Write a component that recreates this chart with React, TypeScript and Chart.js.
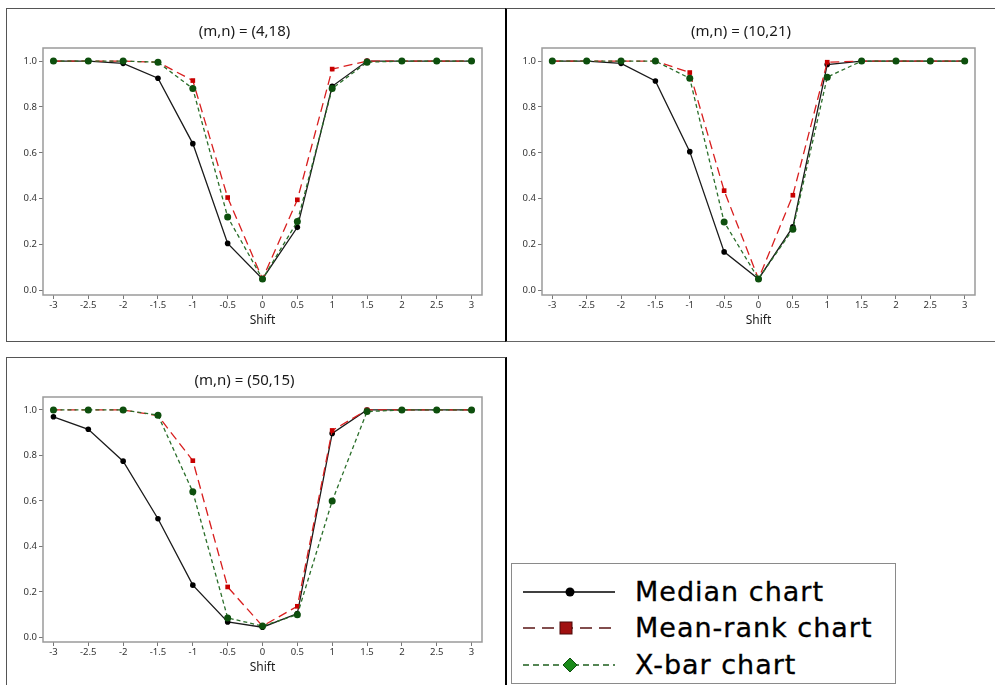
import React, { useEffect, useRef } from "react";
import { Chart, registerables } from "chart.js";
Chart.register(...registerables);

const shifts = [-3, -2.5, -2, -1.5, -1, -0.5, 0, 0.5, 1, 1.5, 2, 2.5, 3];
const yTickValues = [0, 0.2, 0.4, 0.6, 0.8, 1.0];

const title1 = "(m,n) = (4,18)";
const median1 = [1.0, 1.0, 0.99, 0.925, 0.64, 0.205, 0.05, 0.275, 0.89, 1.0, 1.0, 1.0, 1.0];
const meanRank1 = [1.0, 1.0, 1.0, 0.995, 0.915, 0.405, 0.05, 0.395, 0.965, 1.0, 1.0, 1.0, 1.0];
const xbar1 = [1.0, 1.0, 1.0, 0.995, 0.88, 0.32, 0.05, 0.3, 0.88, 0.995, 1.0, 1.0, 1.0];

const title2 = "(m,n) = (10,21)";
const median2 = [1.0, 1.0, 0.99, 0.913, 0.605, 0.168, 0.05, 0.277, 0.985, 1.0, 1.0, 1.0, 1.0];
const meanRank2 = [1.0, 1.0, 1.0, 1.0, 0.95, 0.435, 0.05, 0.415, 0.995, 1.0, 1.0, 1.0, 1.0];
const xbar2 = [1.0, 1.0, 1.0, 1.0, 0.925, 0.298, 0.05, 0.267, 0.93, 1.0, 1.0, 1.0, 1.0];

const title3 = "(m,n) = (50,15)";
const median3 = [0.97, 0.915, 0.775, 0.522, 0.23, 0.068, 0.045, 0.105, 0.897, 1.0, 1.0, 1.0, 1.0];
const meanRank3 = [1.0, 1.0, 1.0, 0.975, 0.777, 0.222, 0.05, 0.137, 0.91, 1.0, 1.0, 1.0, 1.0];
const xbar3 = [1.0, 1.0, 1.0, 0.977, 0.64, 0.086, 0.05, 0.1, 0.6, 0.993, 1.0, 1.0, 1.0];

const legendLabels = ["Median chart", "Mean-rank chart", "X-bar chart"];

const FONT = "'Noto Sans', 'Open Sans', sans-serif";
const LEGEND_FONT = "'DejaVu Sans', 'Noto Sans', sans-serif";

const framePlugin = {
  id: "frame",
  beforeDatasetsDraw(chart: any) {
    const { ctx, chartArea } = chart;
    ctx.save();
    ctx.strokeStyle = "#9a9a9a";
    ctx.lineWidth = 1.5;
    ctx.strokeRect(chartArea.left, chartArea.top, chartArea.right - chartArea.left, chartArea.bottom - chartArea.top);
    ctx.restore();
  },
};

type PanelProps = {
  title: string;
  median: number[];
  meanRank: number[];
  xbar: number[];
  left: number;
  top: number;
  width: number;
  height: number;
  yAxisWidth: number;
  rightPad: number;
};

function Panel(p: PanelProps) {
  const ref = useRef<HTMLCanvasElement>(null);
  useEffect(() => {
    const pts = (arr: number[]) => shifts.map((x, i) => ({ x, y: arr[i] }));
    const chart = new Chart(ref.current as HTMLCanvasElement, {
      type: "line",
      data: {
        datasets: [
          {
            label: legendLabels[2],
            data: pts(p.xbar),
            borderColor: "#2a6e2a",
            borderWidth: 1.3,
            borderDash: [4, 3],
            pointStyle: "circle",
            pointRadius: 3.5,
            pointBackgroundColor: "#0d4f0d",
            pointBorderColor: "#0d4f0d",
            pointBorderWidth: 0,
            order: 0,
          },
          {
            label: legendLabels[1],
            data: pts(p.meanRank),
            borderColor: "#d81e1e",
            borderWidth: 1.3,
            borderDash: [9, 5],
            pointStyle: "rect",
            pointRadius: 3.3,
            pointBackgroundColor: "#c80000",
            pointBorderColor: "#c80000",
            pointBorderWidth: 0,
            order: 1,
          },
          {
            label: legendLabels[0],
            data: pts(p.median),
            borderColor: "#1a1a1a",
            borderWidth: 1.3,
            pointStyle: "circle",
            pointRadius: 2.8,
            pointBackgroundColor: "#000",
            pointBorderColor: "#000",
            pointBorderWidth: 0,
            order: 2,
          },
        ],
      },
      options: {
        animation: false,
        responsive: false,
        maintainAspectRatio: false,
        layout: { padding: { left: 0, right: p.rightPad, top: 0, bottom: 0 } },
        plugins: {
          legend: { display: false },
          tooltip: { enabled: false },
          title: {
            display: true,
            text: p.title,
            color: "#1a1a1a",
            font: { family: FONT, size: 15, weight: "normal" },
            padding: { top: 14, bottom: 7 },
          },
        },
        scales: {
          x: {
            type: "linear",
            min: -3.15,
            max: 3.15,
            afterBuildTicks: (s: any) => {
              s.ticks = shifts.map((v) => ({ value: v }));
            },
            afterFit: (s: any) => {
              s.height = 45;
            },
            grid: { drawOnChartArea: false, drawTicks: true, tickLength: 4, color: "#777" },
            border: { display: false },
            ticks: {
              autoSkip: false,
              maxRotation: 0,
              padding: 1,
              color: "#333",
              font: { family: FONT, size: 9.5 },
              callback: (v: any) => String(v),
            },
            title: {
              display: true,
              text: "Shift",
              color: "#1a1a1a",
              font: { family: FONT, size: 12 },
              padding: { top: 0, bottom: 12 },
            },
          },
          y: {
            type: "linear",
            min: -0.02,
            max: 1.057,
            afterBuildTicks: (s: any) => {
              s.ticks = yTickValues.map((v) => ({ value: v }));
            },
            afterFit: (s: any) => {
              s.width = p.yAxisWidth;
            },
            grid: { drawOnChartArea: false, drawTicks: true, tickLength: 4, color: "#777" },
            border: { display: false },
            ticks: {
              padding: 2,
              color: "#333",
              font: { family: FONT, size: 9.5 },
              callback: (v: any) => Number(v).toFixed(1),
            },
          },
        },
      } as any,
      plugins: [framePlugin],
    });
    return () => chart.destroy();
  }, []);
  return (
    <canvas
      ref={ref}
      width={p.width}
      height={p.height}
      style={{ position: "absolute", left: p.left, top: p.top, width: p.width, height: p.height }}
    />
  );
}

function LegendBox() {
  const rows = [28, 64, 101];
  return (
    <div
      style={{
        position: "absolute",
        left: 511,
        top: 563,
        width: 385,
        height: 121,
        border: "1px solid #8a8a8a",
        boxSizing: "border-box",
        background: "#fff",
      }}
    >
      <svg width={120} height={119} style={{ position: "absolute", left: 0, top: 0 }}>
        <line x1={11} y1={rows[0]} x2={103} y2={rows[0]} stroke="#000" strokeWidth={1.5} />
        <circle cx={58} cy={rows[0]} r={4.5} fill="#000" />
        <line x1={11} y1={rows[1]} x2={103} y2={rows[1]} stroke="#5a1414" strokeWidth={1.5} strokeDasharray="12 7" />
        <rect x={48} y={rows[1] - 6} width={12} height={12} fill="#a01010" stroke="#4a0808" strokeWidth={1} />
        <line x1={11} y1={rows[2]} x2={103} y2={rows[2]} stroke="#1d5e1d" strokeWidth={1.5} strokeDasharray="6 4" />
        <polygon
          points={`58,${rows[2] - 7} 65,${rows[2]} 58,${rows[2] + 7} 51,${rows[2]}`}
          fill="#1a8a1a"
          stroke="#0d4d0d"
          strokeWidth={1}
        />
      </svg>
      {legendLabels.map((t, i) => (
        <div
          key={t}
          style={{
            position: "absolute",
            left: 123,
            top: rows[i] - 19,
            height: 38,
            lineHeight: "38px",
            fontFamily: LEGEND_FONT,
            fontSize: 27,
            letterSpacing: "1px",
            color: "#000",
            whiteSpace: "nowrap",
            WebkitTextStroke: "0.3px #000",
          }}
        >
          {t}
        </div>
      ))}
    </div>
  );
}

export default function App() {
  return (
    <div
      style={{
        position: "fixed",
        left: 0,
        top: 0,
        width: 995,
        height: 685,
        overflow: "hidden",
        background: "#fff",
      }}
    >
      <div style={{ position: "absolute", left: 6, top: 8, width: 500, height: 334, border: "1px solid #555", boxSizing: "border-box" }} />
      <div style={{ position: "absolute", left: 505, top: 8, width: 495, height: 334, borderTop: "1px solid #555", borderBottom: "1px solid #666", borderLeft: "2px solid #000", boxSizing: "border-box" }} />
      <div style={{ position: "absolute", left: 6, top: 357, width: 501, height: 340, borderTop: "1px solid #555", borderLeft: "1px solid #555", borderRight: "2px solid #000", boxSizing: "border-box" }} />
      <Panel title={title1} median={median1} meanRank={meanRank1} xbar={xbar1} left={7} top={9} width={497} height={331} yAxisWidth={36} rightPad={22} />
      <Panel title={title2} median={median2} meanRank={meanRank2} xbar={xbar2} left={507} top={9} width={488} height={331} yAxisWidth={35} rightPad={20} />
      <Panel title={title3} median={median3} meanRank={meanRank3} xbar={xbar3} left={7} top={358} width={497} height={329} yAxisWidth={36} rightPad={22} />
      <LegendBox />
    </div>
  );
}
